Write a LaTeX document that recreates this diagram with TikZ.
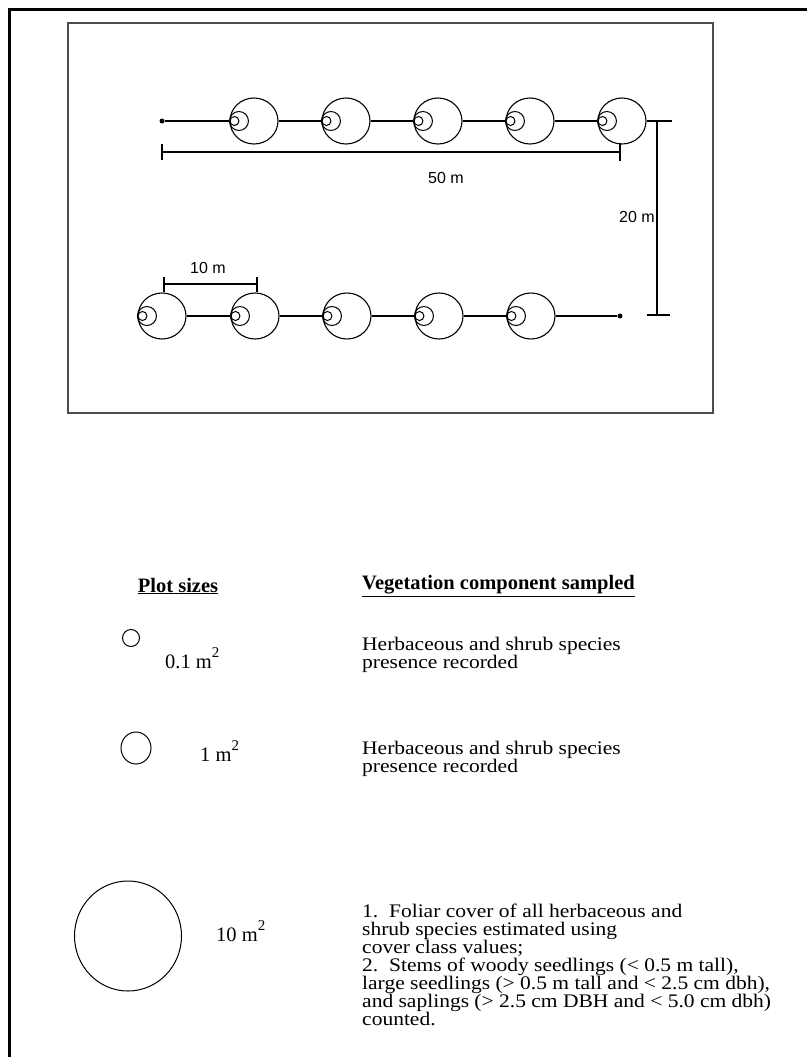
\documentclass[tikz,border=0pt]{standalone}
\usepackage{fontspec}
\setmainfont{Liberation Serif}
\newfontfamily\widefont[FakeStretch=1.12]{Liberation Serif}
\newfontfamily\labfont{Liberation Sans}
\usetikzlibrary{shapes.geometric,calc}
\newcommand{\bodyfnt}{\widefont\fontsize{19.2}{17.9}\selectfont\lineskiplimit=-20pt\relax}
\tikzset{
  frameline/.style={line width=3pt,black},
  boxline/.style={line width=1.7pt,black!70},
  plotbig/.style={draw,ellipse,line width=1.1pt,minimum width=48pt,minimum height=46pt,inner sep=0pt},
  plotdot/.style={circle,fill,inner sep=0pt,minimum size=5pt},
  conn/.style={line width=1.1pt},
  dimline/.style={line width=1.1pt},
  dimlabel/.style={font=\labfont\fontsize{16}{16}\selectfont,inner sep=0pt},
  bodytext/.style={font=\bodyfnt,align=left,anchor=north west,inner sep=0pt},
  headtext/.style={font=\fontsize{20.5}{20}\selectfont\bfseries,inner sep=0pt},
  sizelabel/.style={font=\fontsize{20.5}{20}\selectfont,inner sep=0pt,anchor=base west},
  legcircle/.style={draw,ellipse,line width=1pt,inner sep=0pt}
}
\newcommand{\subplots}[1]{%
  \draw[line width=1pt] ($(#1.west)+(9.5pt,0)$) circle[radius=9.5pt];
  \draw[line width=1pt] ($(#1.west)+(5pt,0)$) circle[radius=4.5pt];
}
\newcommand{\sqm}{m\raisebox{1.1ex}{\fontsize{15}{15}\selectfont 2}}
\begin{document}
\begin{tikzpicture}[x=1pt,y=-1pt]
\useasboundingbox (0,0) rectangle (807,1057);
\fill[white] (0,0) rectangle (807,1057);
% outer frame
\draw[frameline] (9,1057) -- (9,10) -- (807,10);
% inner box
\draw[boxline] (68,23) rectangle (713,413);

% top row
\node[plotdot] (d1) at (162,121) {};
\foreach \i/\x in {1/254,2/346,3/438,4/530,5/622} {
  \node[plotbig] (t\i) at (\x,121) {};
}
\foreach \i in {1,...,5} { \subplots{t\i} }
\draw[conn] (d1) -- (t1);
\draw[conn] (t1) -- (t2);
\draw[conn] (t2) -- (t3);
\draw[conn] (t3) -- (t4);
\draw[conn] (t4) -- (t5);
\coordinate (tr) at (672,121);
\draw[conn] (t5) -- (tr);

% bottom row
\foreach \i/\x in {1/162,2/255,3/347,4/439,5/531} {
  \node[plotbig] (b\i) at (\x,316) {};
}
\foreach \i in {1,...,5} { \subplots{b\i} }
\node[plotdot] (d2) at (620,316) {};
\draw[conn] (b1) -- (b2);
\draw[conn] (b2) -- (b3);
\draw[conn] (b3) -- (b4);
\draw[conn] (b4) -- (b5);
\draw[conn] (b5) -- (d2);

% 50 m dimension
\coordinate (f1) at (162,152);
\coordinate (f2) at (620,152);
\draw[dimline] (f1) -- (f2);
\draw[dimline] ($(f1)+(0,-8)$) -- ($(f1)+(0,8)$);
\draw[dimline] ($(f2)+(0,-9)$) -- ($(f2)+(0,9)$);
\node[dimlabel] (l50) at (446,178) {50 m};

% 20 m dimension
\coordinate (v1) at (657,121);
\coordinate (v2) at (657,315);
\draw[dimline] (v1) -- (v2);
\draw[dimline] (647,315) -- (670,315);
\node[dimlabel,anchor=east] (l20) at (655,217) {20 m};

% 10 m dimension
\coordinate (g1) at (164,284);
\coordinate (g2) at (257,284);
\draw[dimline] (g1) -- (g2);
\draw[dimline] ($(g1)+(0,-7)$) -- ($(g1)+(0,8)$);
\draw[dimline] ($(g2)+(0,-7)$) -- ($(g2)+(0,8)$);
\node[dimlabel] (l10) at (208,268) {10 m};

% legend headers
\node[headtext] (h1) at (178,586) {\underline{Plot sizes}};
\node[headtext,anchor=west] (h2) at (362,586) {\underline{Vegetation component sampled}};

% legend rows
\node[legcircle,minimum width=17pt,minimum height=17pt] (c1) at (131,638) {};
\node[sizelabel] (s1) at (165,668) {0.1 \sqm};
\node[bodytext] (x1) at (362,637) {Herbaceous and shrub species\\presence recorded};

\node[legcircle,minimum width=30pt,minimum height=32pt] (c2) at (136,748) {};
\node[sizelabel] (s2) at (200,761) {1 \sqm};
\node[bodytext] (x2) at (362,741) {Herbaceous and shrub species\\presence recorded};

\node[legcircle,minimum width=107pt,minimum height=110pt] (c3) at (128,936) {};
\node[sizelabel] (s3) at (216,941) {10 \sqm};
\node[bodytext] (x3) at (362,904) {1.\ \ Foliar cover of all herbaceous and\\shrub species estimated using\\cover class values;\\2.\ \ Stems of woody seedlings (< 0.5 m tall),\\large seedlings (> 0.5 m tall and < 2.5 cm dbh),\\and saplings (> 2.5 cm DBH and < 5.0 cm dbh)\\counted.};
\end{tikzpicture}
\end{document}
